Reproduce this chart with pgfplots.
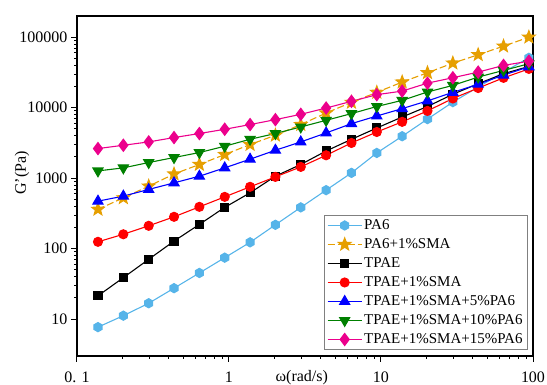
\documentclass[border=0pt]{standalone}
\usepackage{pgfplots}
\pgfplotsset{compat=1.18}
\usepackage{pgfplotstable}
\usepackage{fontspec}
\setmainfont{Liberation Serif}
\usetikzlibrary{plotmarks}

\definecolor{cPA}{HTML}{56B4E9}
\definecolor{cOr}{HTML}{E69F00}
\definecolor{cGr}{HTML}{008000}

\pgfdeclareplotmark{hexagon*}{%
  \pgfpathmoveto{\pgfpointpolar{30}{\pgfplotmarksize}}%
  \pgfpathlineto{\pgfpointpolar{90}{\pgfplotmarksize}}%
  \pgfpathlineto{\pgfpointpolar{150}{\pgfplotmarksize}}%
  \pgfpathlineto{\pgfpointpolar{210}{\pgfplotmarksize}}%
  \pgfpathlineto{\pgfpointpolar{270}{\pgfplotmarksize}}%
  \pgfpathlineto{\pgfpointpolar{330}{\pgfplotmarksize}}%
  \pgfpathclose\pgfusepathqfillstroke}
\pgfdeclareplotmark{fstar}{%
  \pgfpathmoveto{\pgfpointpolar{90}{\pgfplotmarksize}}%
  \pgfpathlineto{\pgfpointpolar{126}{0.42\pgfplotmarksize}}%
  \pgfpathlineto{\pgfpointpolar{162}{\pgfplotmarksize}}%
  \pgfpathlineto{\pgfpointpolar{198}{0.42\pgfplotmarksize}}%
  \pgfpathlineto{\pgfpointpolar{234}{\pgfplotmarksize}}%
  \pgfpathlineto{\pgfpointpolar{270}{0.42\pgfplotmarksize}}%
  \pgfpathlineto{\pgfpointpolar{306}{\pgfplotmarksize}}%
  \pgfpathlineto{\pgfpointpolar{342}{0.42\pgfplotmarksize}}%
  \pgfpathlineto{\pgfpointpolar{18}{\pgfplotmarksize}}%
  \pgfpathlineto{\pgfpointpolar{54}{0.42\pgfplotmarksize}}%
  \pgfpathclose\pgfusepathqfillstroke}

\pgfplotstableread{
w      pa6    pa6sma  tpae   tpaesma  b5     b10    b15
0.1374 7.7    361     21.4   125      472    1268   2630
0.2018 11.2   526     38.8   160      556    1400   2930
0.2963 16.8   771     70.6   211      692    1667   3270
0.4349 27.5   1145    128    283      858    1963   3770
0.6385 45.2   1565    221    392      1067   2310   4300
0.9373 74.5   2163    385    543      1400   2840   4940
1.376  123    3000    620    754      1860   3565   5760
2.020  218    4060    1067   1043     2490   4300   6770
2.966  385    5760    1563   1446     3270   5330   8050
4.354  676    8400    2430   2113     4380   6620   9890
6.392  1189   11900   3560   3160     5940   8240   12300
9.384  2280   16500   5150   4520     7620   10400  15300
13.78  3935   23100   7380   6300     9700   12700  17200
20.22  6890   31300   10400  9000     12500  16700  22300
29.69  12000  42900   15500  13500    16500  20700  26600
43.59  19600  56400   21900  19000    21500  27200  32000
63.99  32000  74600   30300  26500    29000  33800  39800
93.94  51000  100000  38500  35500    38000  42000  45700
}\datatab

\begin{document}
\begin{tikzpicture}
\begin{axis}[
  scale only axis,
  width=456pt, height=340pt,
  at={(0,0)}, anchor=south west,
  xmode=log, ymode=log,
  xmin=0.1, xmax=100, ymin=3, ymax=200000,
  xtick={0.1,1,10,100}, xticklabels={0. 1,1,10,100},
  ytick={10,100,1000,10000,100000},
  yticklabels={10,100,1000,10000,100000},
  xtick pos=bottom, ytick pos=left,
  tick align=outside,
  major tick length=6pt, minor tick length=3pt,
  every tick/.style={black, line width=1pt},
  axis line style={line width=1.5pt},
  tick label style={font=\fontsize{16}{16}\selectfont},
  xticklabel style={yshift=-6pt},
  xlabel={ω(rad/s)}, ylabel={G'(Pa)},
  label style={font=\fontsize{16}{16}\selectfont},
  xlabel style={at={(rel axis cs:0.493,0)}, anchor=center, yshift=-22pt},
  ylabel style={at={(rel axis cs:0,0.538)}, anchor=center, rotate=0, yshift=55pt},
  legend image code/.code={\draw[mark repeat=2,mark phase=2,#1] plot coordinates {(0pt,0pt) (17pt,0pt) (34pt,0pt)};},
  legend cell align=left,
  legend style={at={(rel axis cs:0.989,0.018)}, anchor=south east,
    draw=gray, line width=0.8pt, font=\fontsize{15}{15}\selectfont,
    inner xsep=3pt, inner ysep=0.5pt, row sep=0pt,
    nodes={text height=11pt, text depth=3pt, inner ysep=2.5pt, inner xsep=2pt}},
  every axis plot/.append style={line width=1.1pt},
]
\addplot[color=cPA, mark=hexagon*, mark size=4.6pt, mark options={fill=cPA, draw=cPA, solid}] table[x=w,y=pa6] {\datatab};
\addlegendentry{PA6}
\addplot[color=cOr, dash pattern=on 7pt off 3pt, mark=fstar, mark size=6.5pt, mark options={fill=cOr, draw=cOr, solid}] table[x=w,y=pa6sma] {\datatab};
\addlegendentry{PA6+1\%SMA}
\addplot[color=black, mark=square*, mark size=4pt, mark options={fill=black, solid}] table[x=w,y=tpae] {\datatab};
\addlegendentry{TPAE}
\addplot[color=red, mark=*, mark size=4.5pt, mark options={fill=red, solid}] table[x=w,y=tpaesma] {\datatab};
\addlegendentry{TPAE+1\%SMA}
\addplot[color=blue, mark=triangle*, mark size=5.8pt, mark options={fill=blue, solid}] table[x=w,y=b5] {\datatab};
\addlegendentry{TPAE+1\%SMA+5\%PA6}
\addplot[color=cGr, mark=triangle*, mark size=5.8pt, mark options={fill=cGr, solid, rotate=180}] table[x=w,y=b10] {\datatab};
\addlegendentry{TPAE+1\%SMA+10\%PA6}
\addplot[color=magenta, mark=diamond*, mark size=6pt, mark options={fill=magenta, solid}] table[x=w,y=b15] {\datatab};
\addlegendentry{TPAE+1\%SMA+15\%PA6}
\end{axis}
\pgfresetboundingbox
\path[use as bounding box] (-77pt,-29pt) rectangle (470pt,356pt);
\end{tikzpicture}
\end{document}
